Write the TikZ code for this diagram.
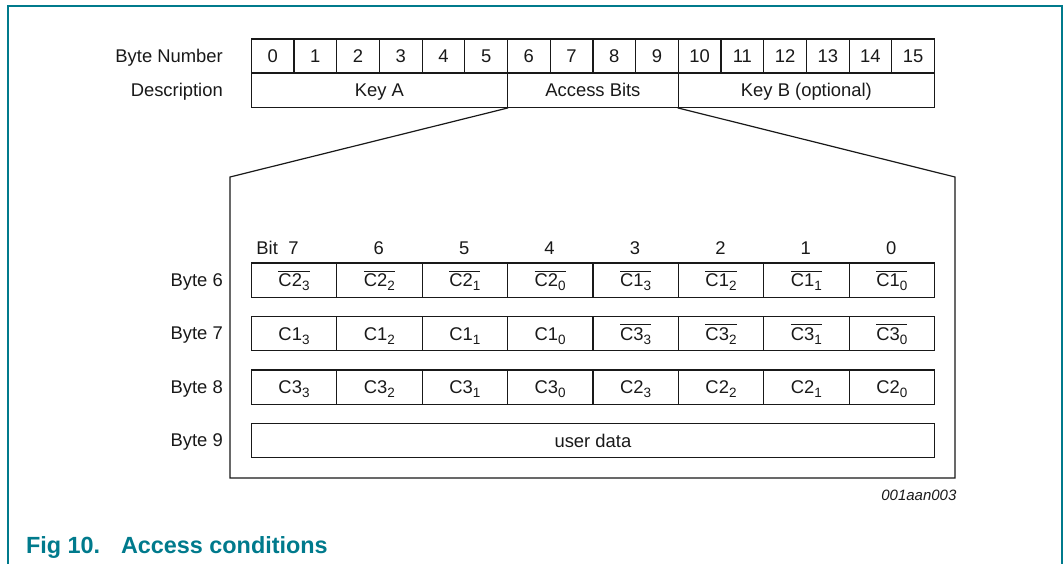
\documentclass[tikz,border=0pt]{standalone}
\usepackage{fontspec}
\setmainfont{Liberation Sans}
\definecolor{nxpteal}{RGB}{0,122,140}
\definecolor{ink}{RGB}{25,25,25}
\newcommand\ovl[1]{\setbox0=\hbox{#1}\rlap{\rule[\dimexpr\ht0+2.2pt\relax]{\wd0}{1pt}}\box0}
\newcommand\sbs[1]{\raisebox{-4pt}{\fontsize{13.5}{14}\selectfont #1}}
\begin{document}
\begin{tikzpicture}[x=1pt,y=-1pt,
  font=\fontsize{18.4}{20}\selectfont,
  txt/.style={inner sep=0pt, text height=13.2pt, text depth=0pt, text=ink},
  cellbox/.style={txt, draw=ink, line width=1.2pt, minimum height=34.2pt, anchor=north west},
  numcell/.style={cellbox, minimum width=42.7pt},
  bitcell/.style={cellbox, minimum width=85.4pt},
  rowlabel/.style={txt, anchor=east},
  frameline/.style={nxpteal, line width=2pt},
  zoomline/.style={draw=ink, line width=1.2pt},
  captxt/.style={inner sep=0pt, anchor=base west, text=nxpteal, font=\bfseries\fontsize{23.4}{25}\selectfont}
]
\useasboundingbox (0,0) rectangle (1064,564);
% outer frame
\draw[frameline] (8,564) -- (8,6) -- (1062,6) -- (1062,564);

% top table
\node[rowlabel] (lbn) at (223,55.6) {Byte Number};
\node[rowlabel] (ldesc) at (223,89.8) {Description};
\foreach \i in {0,...,15} {
  \node[numcell] (n\i) at ({250.7+42.7*\i},38.5) {\i};
}
\node[cellbox, minimum width=256.2pt] (keya) at (250.7,72.5) {Key A};
\node[cellbox, minimum width=170.8pt] (acc) at (506.9,72.5) {Access Bits};
\node[cellbox, minimum width=256.2pt] (keyb) at (677.7,72.5) {Key B (optional)};

% zoom outline
\coordinate (c1) at (230,177);
\coordinate (c2) at (230,478);
\coordinate (c3) at (955,478);
\coordinate (c4) at (955,177);
\draw[zoomline] (keya.south east) -- (c1) -- (c2) -- (c3) -- (c4) -- (keyb.south west);

% bit labels
\node[txt, anchor=west] (bitlbl) at (256.2,248.3) {Bit};
\foreach \b [count=\k from 0] in {7,6,5,4,3,2,1,0} {
  \node[txt] (b\b) at ({293.4+85.4*\k},248.3) {\b};
}

% byte rows
\node[rowlabel] (l6) at (223,279.5) {Byte 6};
\node[rowlabel] (l7) at (223,333.1) {Byte 7};
\node[rowlabel] (l8) at (223,386.4) {Byte 8};
\node[rowlabel] (l9) at (223,439.8) {Byte 9};

\foreach \t [count=\k from 0] in {{\ovl{C2\sbs{3}}},{\ovl{C2\sbs{2}}},{\ovl{C2\sbs{1}}},{\ovl{C2\sbs{0}}},{\ovl{C1\sbs{3}}},{\ovl{C1\sbs{2}}},{\ovl{C1\sbs{1}}},{\ovl{C1\sbs{0}}}} {
  \node[bitcell] (r6c\k) at ({250.7+85.4*\k},262.3) {\t};
}
\foreach \t [count=\k from 0] in {{C1\sbs{3}},{C1\sbs{2}},{C1\sbs{1}},{C1\sbs{0}},{\ovl{C3\sbs{3}}},{\ovl{C3\sbs{2}}},{\ovl{C3\sbs{1}}},{\ovl{C3\sbs{0}}}} {
  \node[bitcell] (r7c\k) at ({250.7+85.4*\k},316) {\t};
}
\foreach \t [count=\k from 0] in {{C3\sbs{3}},{C3\sbs{2}},{C3\sbs{1}},{C3\sbs{0}},{C2\sbs{3}},{C2\sbs{2}},{C2\sbs{1}},{C2\sbs{0}}} {
  \node[bitcell] (r8c\k) at ({250.7+85.4*\k},369.3) {\t};
}
\node[cellbox, minimum width=683.2pt] (udata) at (250.7,422.7) {user data};

% figure id
\node[inner sep=0pt, anchor=base east, text=ink, font=\itshape\fontsize{15}{16}\selectfont] (figid) at (956.6,500.3) {001aan003};

% caption
\node[captxt] (fignum) at (25.8,553.5) {Fig 10.};
\node[captxt] (figtitle) at (120.8,553.5) {Access conditions};
\end{tikzpicture}
\end{document}
